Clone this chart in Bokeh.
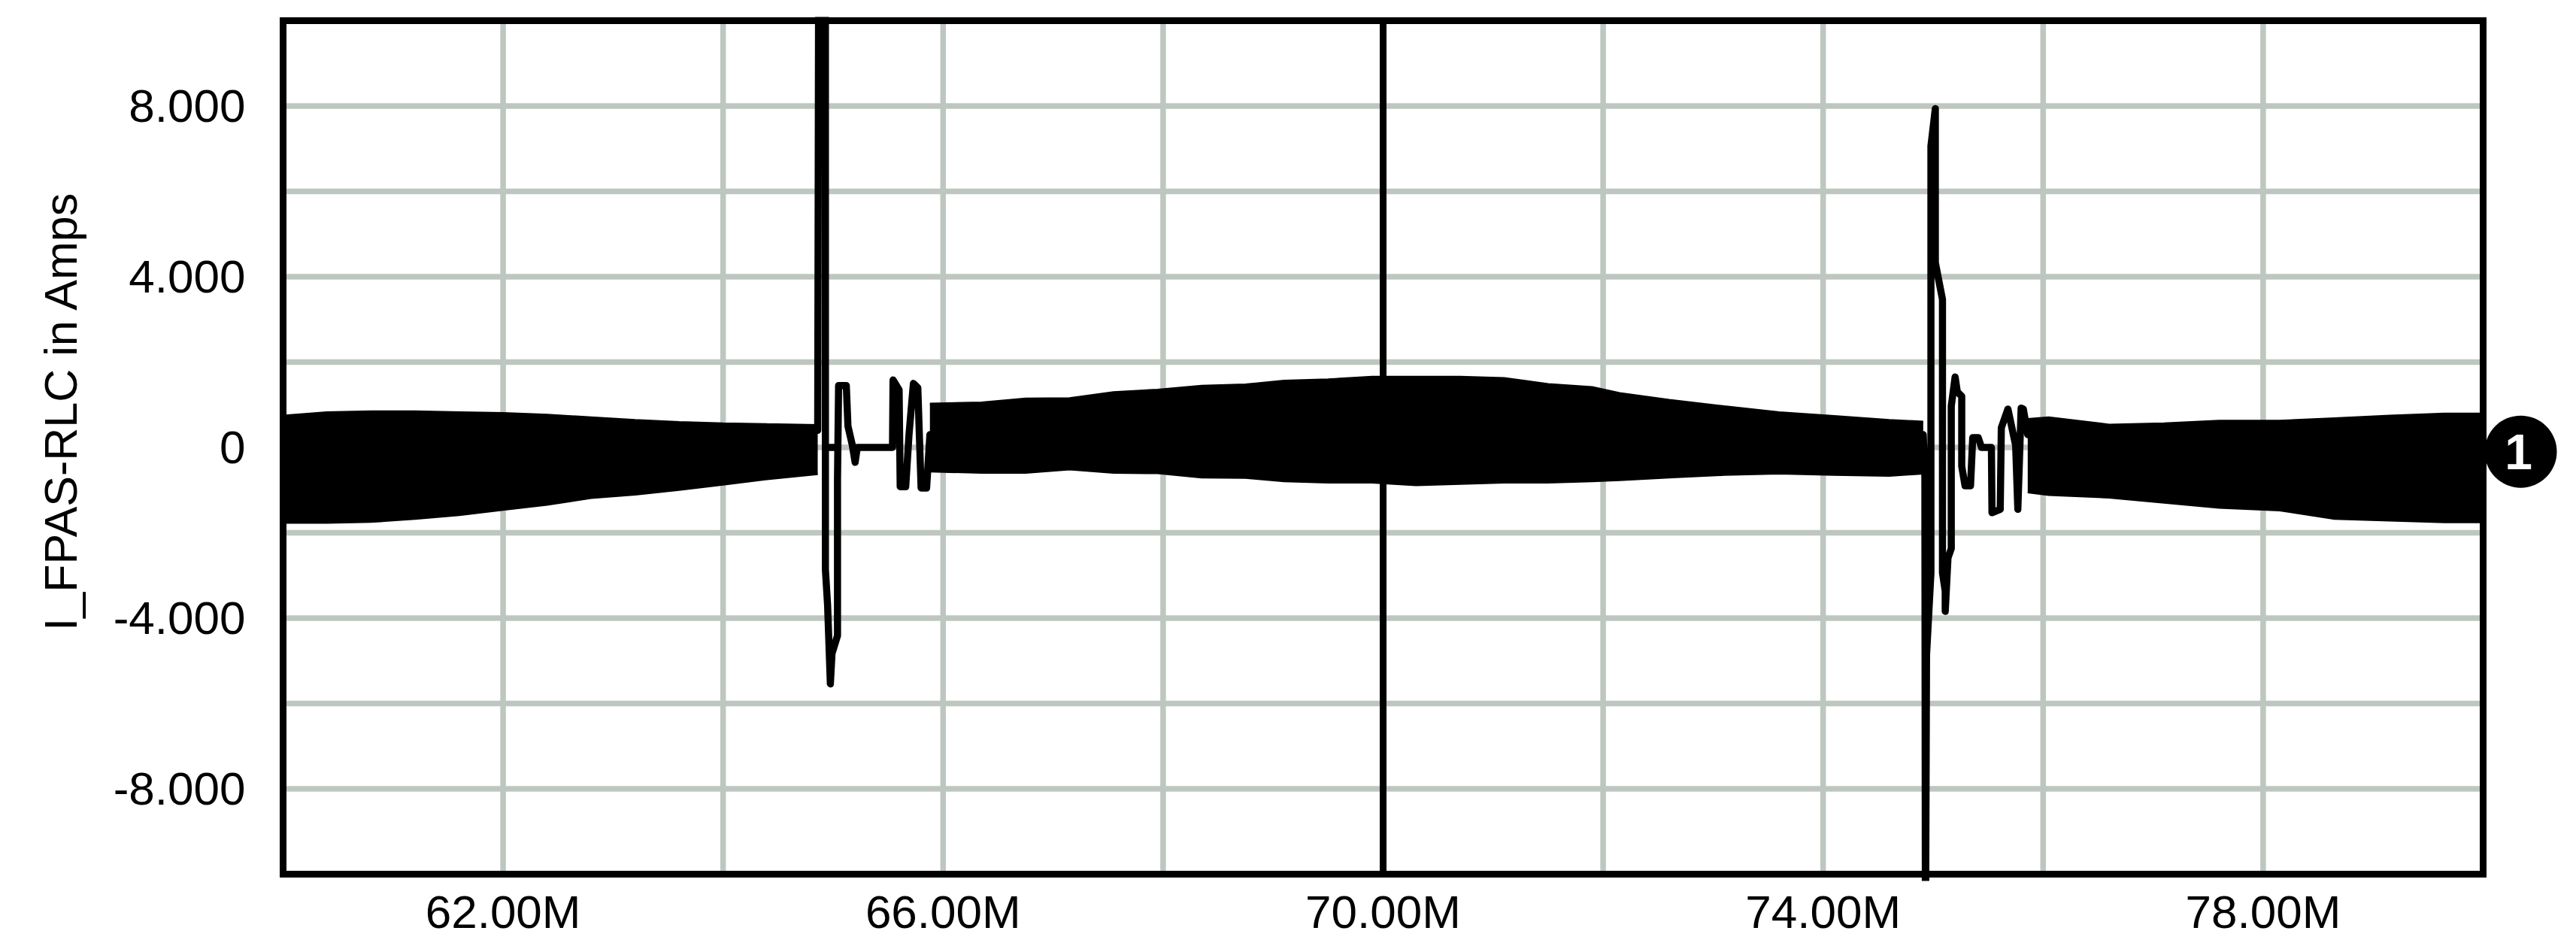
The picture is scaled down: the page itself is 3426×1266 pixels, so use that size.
import numpy as np
from bokeh.plotting import figure
from bokeh.layouts import row
from bokeh.models import Range1d, FixedTicker, PrintfTickFormatter
from bokeh.embed import file_html
from bokeh.resources import INLINE
from bokeh.core.properties import value

# ---------------- data (x in millions) ----------------
x_ticks = [62, 66, 70, 74, 78]
y_ticks = [-8, -4, 0, 4, 8]
y_tick_labels = ["-8.000", "-4.000", "0", "4.000", "8.000"]
grid_x = [62, 64, 66, 68, 70, 72, 74, 76, 78]
grid_y = [-8, -6, -4, -2, 0, 2, 4, 6, 8]
cursor_x = [70.0]
y_title = "I_FPAS-RLC in Amps"
trace_id = "1"
trace_end_y = -0.1

# dense oscillation: envelope of the band, three stretches
seg1_x = [60.0, 60.4, 60.8, 61.2, 61.6, 62.0, 62.4, 62.8, 63.2, 63.6, 64.0, 64.4, 64.86]
seg1_hi = [0.74, 0.82, 0.84, 0.84, 0.82, 0.80, 0.76, 0.70, 0.64, 0.59, 0.56, 0.54, 0.52]
seg1_lo = [-1.76, -1.76, -1.74, -1.67, -1.58, -1.46, -1.34, -1.18, -1.10, -0.99, -0.87, -0.74, -0.62]

seg2_x = [65.88, 66.35, 66.75, 67.15, 67.55, 67.95, 68.35, 68.75, 69.1, 69.5, 69.9, 70.3,
          70.7, 71.1, 71.5, 71.9, 72.15, 72.6, 73.1, 73.6, 74.1, 74.6, 74.91]
seg2_hi = [1.02, 1.05, 1.14, 1.15, 1.29, 1.35, 1.44, 1.47, 1.56, 1.59, 1.65, 1.65,
           1.65, 1.62, 1.48, 1.41, 1.27, 1.11, 0.96, 0.82, 0.73, 0.64, 0.60]
seg2_lo = [-0.56, -0.59, -0.59, -0.51, -0.59, -0.60, -0.70, -0.71, -0.79, -0.82, -0.82, -0.88,
           -0.85, -0.82, -0.82, -0.79, -0.76, -0.70, -0.64, -0.61, -0.64, -0.66, -0.61]

seg3_x = [75.86, 76.05, 76.6, 77.1, 77.6, 78.15, 78.65, 79.15, 79.65, 80.0]
seg3_hi = [0.66, 0.70, 0.53, 0.56, 0.62, 0.62, 0.68, 0.74, 0.79, 0.79]
seg3_lo = [-1.05, -1.11, -1.17, -1.29, -1.41, -1.47, -1.67, -1.71, -1.75, -1.75]

# transient near 65M
t1_x = [64.86, 64.87, 64.93, 64.93, 64.95, 64.975, 64.99, 65.04, 65.04, 65.05, 65.12, 65.135,
        65.175, 65.2, 65.22, 65.54, 65.545, 65.6, 65.61, 65.66, 65.69, 65.73, 65.77, 65.8, 65.85, 65.88]
t1_y = [0.4, 13.0, 13.0, -2.86, -3.7, -5.54, -4.83, -4.41, -0.75, 1.45, 1.45, 0.5,
        0.05, -0.35, 0.0, 0.0, 1.58, 1.35, -0.92, -0.92, 0.3, 1.5, 1.4, -0.95, -0.95, 0.3]
t1b_x = [64.95, 65.04]
t1b_y = [0.0, 0.0]

# transient near 75M
t2_x = [74.91, 74.925, 74.93, 74.94, 74.98, 74.98, 75.02, 75.02, 75.085, 75.085, 75.11, 75.11,
        75.135, 75.165, 75.165, 75.2, 75.22, 75.26, 75.26, 75.29, 75.34, 75.36, 75.41, 75.44,
        75.53, 75.535, 75.61, 75.62, 75.68, 75.75, 75.77, 75.80, 75.82, 75.86]
t2_y = [0.3, -0.7, -12.0, -4.87, -2.94, 7.06, 7.94, 4.33, 3.47, -2.94, -3.37, -3.84,
        -2.59, -2.37, 0.97, 1.65, 1.3, 1.2, -0.44, -0.9, -0.9, 0.23, 0.23, 0.0,
        0.0, -1.53, -1.45, 0.46, 0.9, 0.05, -1.45, 0.92, 0.9, 0.3]

# ---------------- geometry (page pixels; page has no margin) ----------------
W, H = 3420, 1262
LEFT_W = 130                       # strip holding the vertical title
X0, X1, Y0, Y1 = 60.0, 80.0, -10.0, 10.0
px_left, px_right = 376, 3302
px_top, px_bottom = 27, 1162
sx = (px_right - px_left) / (X1 - X0)
sy = (px_bottom - px_top) / (Y1 - Y0)
pad_l, pad_t, pad_b = 5, 5, 9
frame_left = px_left - pad_l
frame_top = px_top - pad_t
frame_bottom = px_bottom + pad_b
title_base_x, title_center_y = 80, 575

GRID = "#bec7bf"
FONT = "Liberation Sans"
LW_FRAME = 9
LW_GRID = 7.5
LW_TRACE = 9.5

# ---- left strip with the y title ----
pl = figure(width=LEFT_W, height=H, output_backend="svg", toolbar_location=None,
            x_range=Range1d(0, LEFT_W), y_range=Range1d(0, H),
            x_axis_location=None, y_axis_location=None,
            min_border=0, min_border_left=0, min_border_right=0,
            min_border_top=0, min_border_bottom=0)
pl.outline_line_color = None
pl.grid.visible = False
pl.background_fill_color = "white"
pl.border_fill_color = "white"
pl.text(x=[title_base_x], y=[H - title_center_y], text=[y_title], angle=np.pi / 2,
        text_font=value(FONT), text_font_size="61px", text_color="black",
        text_align="center", text_baseline="alphabetic")

# ---- main plot ----
p = figure(width=W - LEFT_W, height=H, output_backend="svg", toolbar_location=None,
           x_range=Range1d(X0 - pad_l / sx, X0 + (W - px_left) / sx),
           y_range=Range1d(Y0 - pad_b / sy, Y1 + pad_t / sy),
           min_border_left=frame_left - LEFT_W, min_border_right=0,
           min_border_top=frame_top, min_border_bottom=H - frame_bottom)
p.outline_line_color = None
p.xgrid.visible = False
p.ygrid.visible = False
p.background_fill_color = "white"
p.border_fill_color = "white"

for ax in (p.xaxis[0], p.yaxis[0]):
    ax.axis_line_color = None
    ax.major_tick_line_color = None
    ax.minor_tick_line_color = None
    ax.major_tick_in = 0
    ax.major_tick_out = 0
    ax.major_label_text_font = FONT
    ax.major_label_text_font_size = "62px"
    ax.major_label_text_color = "black"

p.xaxis.ticker = FixedTicker(ticks=x_ticks)
p.xaxis.formatter = PrintfTickFormatter(format="%.2fM")
p.xaxis.major_label_standoff = 6
p.yaxis.ticker = FixedTicker(ticks=y_ticks)
p.yaxis.major_label_overrides = dict(zip(y_ticks, y_tick_labels))
p.yaxis.major_label_standoff = 45

# grid
p.segment(x0=grid_x, y0=[Y0] * len(grid_x), x1=grid_x, y1=[Y1] * len(grid_x),
          line_color=GRID, line_width=LW_GRID)
p.segment(x0=[X0] * len(grid_y), y0=grid_y, x1=[X1] * len(grid_y), y1=grid_y,
          line_color=GRID, line_width=LW_GRID)

# dense band
for sx_, lo, hi in ((seg1_x, seg1_lo, seg1_hi), (seg2_x, seg2_lo, seg2_hi), (seg3_x, seg3_lo, seg3_hi)):
    p.varea(x=sx_, y1=lo, y2=hi, fill_color="black")
    p.line(sx_, hi, line_color="black", line_width=3)
    p.line(sx_, lo, line_color="black", line_width=3)

# transients
for tx, ty in ((t1_x, t1_y), (t1b_x, t1b_y), (t2_x, t2_y)):
    p.line(tx, ty, line_color="black", line_width=LW_TRACE, line_join="round", line_cap="round")

# cursor
p.segment(x0=cursor_x, y0=[Y0], x1=cursor_x, y1=[Y1], line_color="black", line_width=LW_FRAME)

# frame border
p.quad(left=[X0], right=[X1], bottom=[Y0], top=[Y1], fill_color=None,
       line_color="black", line_width=LW_FRAME, line_join="miter")

# trace marker
mx = X1 + 50 / sx
p.scatter(x=[mx], y=[trace_end_y], size=96, fill_color="black", line_color=None)
p.text(x=[mx - 3 / sx], y=[trace_end_y], text=[trace_id], text_color="white",
       text_font=value(FONT), text_font_style="bold", text_font_size="66px",
       text_align="center", text_baseline="middle")

layout = row(pl, p, spacing=0)
open("out.html", "w").write(file_html(layout, INLINE))
